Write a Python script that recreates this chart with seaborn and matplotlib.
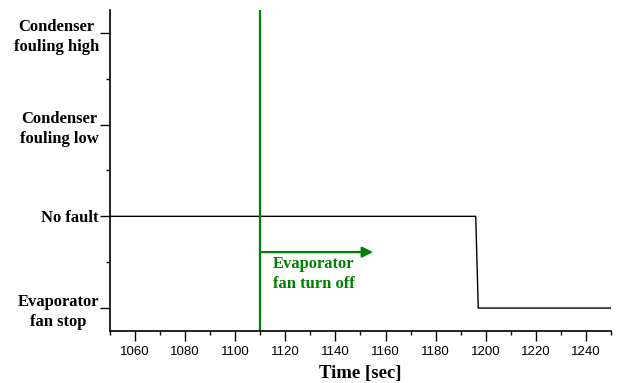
import matplotlib
matplotlib.use("Agg")
import matplotlib.pyplot as plt
from matplotlib.ticker import MultipleLocator
import seaborn as sns
import pandas as pd

# Fault-state trace over time
time_sec = [1050, 1196, 1197, 1250]
state_level = [1, 1, 0, 0]

state_labels = ["Evaporator\nfan stop", "No fault", "Condenser\nfouling low", "Condenser\nfouling high"]
state_ticks = [0, 1, 2, 3]

event_time = 1110
event_label = "Evaporator\nfan turn off"
arrow_end_time = 1155
arrow_level = 0.61

x_ticks = [1060, 1080, 1100, 1120, 1140, 1160, 1180, 1200, 1220, 1240]

sns.set_style("ticks")
plt.rcParams.update({
    "text.color": "black",
    "axes.labelcolor": "black",
    "xtick.color": "black",
    "ytick.color": "black",
    "xtick.labelcolor": "black",
    "ytick.labelcolor": "black",
})
serif = ["Liberation Serif", "DejaVu Serif"]
sans = ["Liberation Sans", "DejaVu Sans"]

fig = plt.figure(figsize=(6.2, 3.83), dpi=100)
ax = fig.add_axes([0.1774, 0.1358, 0.8081, 0.8382])

df = pd.DataFrame({"time": time_sec, "state": state_level})
sns.lineplot(data=df, x="time", y="state", ax=ax, color="black", linewidth=1.0, sort=False)

green = "#008000"
ax.axvline(event_time, color=green, linewidth=1.6)
ax.annotate("", xy=(arrow_end_time, arrow_level), xytext=(event_time, arrow_level),
            arrowprops=dict(arrowstyle="-|>", color=green, lw=1.6, mutation_scale=16,
                            shrinkA=0, shrinkB=0))
ax.text(event_time + 5, arrow_level - 0.04, event_label, color=green, fontsize=12,
        fontweight="bold", family=serif, va="top", ha="left", linespacing=1.35)

ax.set_xlim(1050, 1250)
ax.set_ylim(-0.25, 3.25)
ax.set_xticks(x_ticks)
ax.xaxis.set_minor_locator(MultipleLocator(10))
ax.set_yticks(state_ticks)
ax.set_yticklabels(state_labels, family=serif, fontsize=12, fontweight="bold",
                   multialignment="center", linespacing=1.35)
ax.yaxis.set_minor_locator(MultipleLocator(0.5))
for lbl in ax.get_xticklabels():
    lbl.set_family(sans)
    lbl.set_fontsize(9.5)

ax.tick_params(axis="both", which="major", length=7, width=1, color="black", direction="out")
ax.tick_params(axis="both", which="minor", length=3, width=1, color="black", direction="out")
ax.tick_params(axis="x", pad=4)
ax.tick_params(axis="y", pad=1)

ax.set_xlabel("Time [sec]", family=serif, fontsize=13.5, fontweight="bold", labelpad=5)
ax.set_ylabel("")

for side in ["top", "right"]:
    ax.spines[side].set_visible(False)
for side in ["left", "bottom"]:
    ax.spines[side].set_linewidth(1.2)
    ax.spines[side].set_color("black")

fig.savefig("out.png", dpi=100)
